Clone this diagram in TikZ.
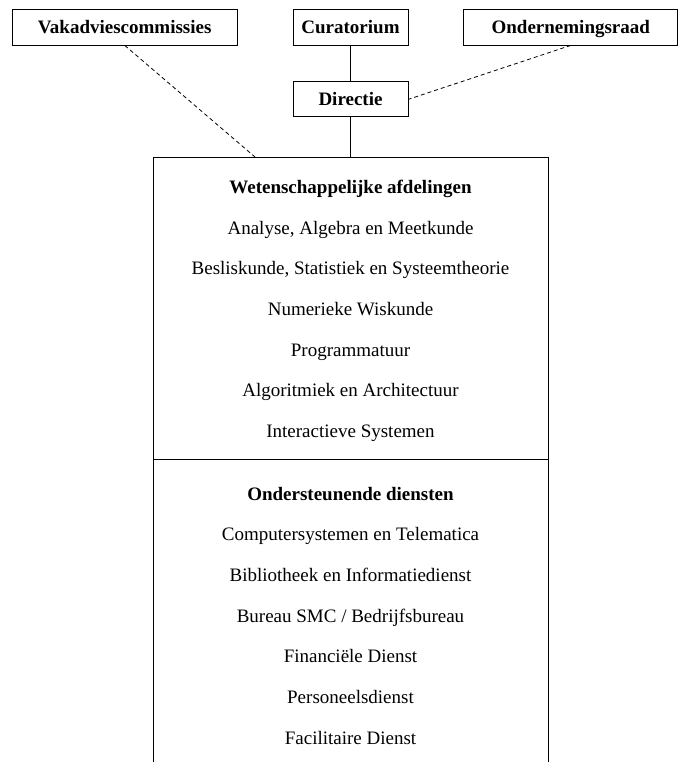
\documentclass[tikz,border=0pt]{standalone}
\usepackage{fontspec}
\setmainfont{Liberation Serif}
\usetikzlibrary{positioning}

\tikzset{
  unit/.style={draw, line width=0.8pt, font=\bfseries, inner sep=0pt, text height=13pt, text depth=0pt, minimum height=36pt},
  entry/.style={inner sep=0pt, text height=13pt, text depth=5pt},
  head/.style={entry, font=\bfseries},
  link/.style={line width=0.8pt},
  loose/.style={line width=0.8pt, dash pattern=on 4pt off 3pt}
}

\begin{document}
\fontsize{19}{23}\selectfont
\begin{tikzpicture}[x=1pt, y=1pt, node distance=55pt]
        \useasboundingbox (0,0) rectangle (678,-762);

        \node[unit, minimum width=115pt] (cur) at (350.5,-27) {Curatorium};
        \node[unit, minimum width=225pt] (vak) [left=of cur] {Vakadviescommissies};
        \node[unit, minimum width=214pt] (ond) [right=of cur] {Ondernemingsraad};
        \node[unit, minimum width=115pt, minimum height=35pt] (dir) [below=36pt of cur] {Directie};

        \coordinate[below=40pt of dir] (top);
        \coordinate (tl) at (153,-157);
        \coordinate (tr) at (548,-157);
        \coordinate (vk) at (255,-157);

        % wetenschappelijke afdelingen
        \node[head] (w0) [below=23pt of top] {Wetenschappelijke afdelingen};
        \node[entry] (w1) [below=22.3pt of w0] {Analyse, Algebra en Meetkunde};
        \node[entry] (w2) [below=22.3pt of w1] {Besliskunde, Statistiek en Systeemtheorie};
        \node[entry] (w3) [below=22.3pt of w2] {Numerieke Wiskunde};
        \node[entry] (w4) [below=22.3pt of w3] {Programmatuur};
        \node[entry] (w5) [below=22.3pt of w4] {Algoritmiek en Architectuur};
        \node[entry] (w6) [below=22.3pt of w5] {Interactieve Systemen};

        \coordinate[below=17pt of w6] (div);

        % ondersteunende diensten
        \node[head] (d0) [below=44pt of w6] {Ondersteunende diensten};
        \node[entry] (d1) [below=22.3pt of d0] {Computersystemen en Telematica};
        \node[entry] (d2) [below=22.3pt of d1] {Bibliotheek en Informatiedienst};
        \node[entry] (d3) [below=22.3pt of d2] {Bureau SMC / Bedrijfsbureau};
        \node[entry] (d4) [below=22.3pt of d3] {Financiële Dienst};
        \node[entry] (d5) [below=22.3pt of d4] {Personeelsdienst};
        \node[entry] (d6) [below=22.3pt of d5] {Facilitaire Dienst};

        \draw[link] (tl |- 0,-762) -- (tl) -- (tr) -- (tr |- 0,-762);
        \draw[link] (tl |- div) -- (tr |- div);

        \draw[link] (cur) -- (dir);
        \draw[link] (dir) -- (top);
        \draw[loose] (vak.south) -- (vk);
        \draw[loose] (ond.south) -- (dir.east);
    \end{tikzpicture}
\end{document}
